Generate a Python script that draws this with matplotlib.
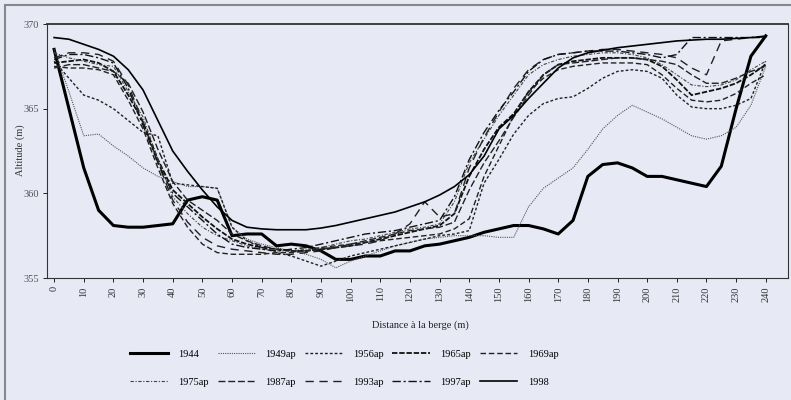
import matplotlib
matplotlib.use("Agg")
import matplotlib.pyplot as plt
from matplotlib.patches import Rectangle

plt.rcParams['font.family'] = ['Liberation Serif', 'DejaVu Serif']

distance = list(range(0, 245, 5))

y1944 = [368.5, 365.0, 361.5, 359.0, 358.1, 358.0, 358.0, 358.1, 358.2, 359.6,
         359.8, 359.6, 357.5, 357.6, 357.6, 356.9, 357.0, 356.9, 356.6, 356.1,
         356.1, 356.3, 356.3, 356.6, 356.6, 356.9, 357.0, 357.2, 357.4, 357.7,
         357.9, 358.1, 358.1, 357.9, 357.6, 358.4, 361.0, 361.7, 361.8, 361.5,
         361.0, 361.0, 360.8, 360.6, 360.4, 361.6, 365.0, 368.1, 369.3]
y1949 = [368.5, 366.0, 363.4, 363.5, 362.8, 362.2, 361.5, 361.0, 360.7, 360.4,
         360.4, 360.3, 358.0, 357.3, 357.0, 356.8, 356.6, 356.4, 356.1, 355.6,
         356.0, 356.3, 356.6, 356.9, 357.1, 357.3, 357.4, 357.5, 357.5, 357.5,
         357.4, 357.4, 359.2, 360.3, 360.9, 361.5, 362.6, 363.8, 364.6, 365.2,
         364.8, 364.4, 363.9, 363.4, 363.2, 363.4, 363.9, 365.2, 367.5]
y1956 = [367.8, 366.8, 365.8, 365.5, 365.0, 364.3, 363.6, 363.4, 360.6, 360.5,
         360.4, 360.3, 358.0, 357.2, 356.8, 356.5, 356.3, 356.0, 355.7, 356.0,
         356.3, 356.5, 356.7, 356.9, 357.1, 357.3, 357.5, 357.6, 357.8, 360.6,
         362.0, 363.5, 364.6, 365.3, 365.6, 365.7, 366.2, 366.8, 367.2, 367.3,
         367.2, 366.8, 365.8, 365.1, 365.0, 365.0, 365.2, 365.6, 367.8]
y1965 = [367.7, 367.8, 367.9, 367.7, 367.2, 365.8, 364.2, 362.0, 360.2, 359.4,
         358.6, 357.9, 357.3, 357.0, 356.8, 356.7, 356.6, 356.6, 356.7, 356.8,
         356.9, 357.1, 357.3, 357.5, 357.7, 357.9, 358.1, 358.8, 361.0, 362.6,
         363.9, 364.7, 366.0, 367.0, 367.6, 367.8, 367.9, 368.0, 368.0, 368.0,
         367.9, 367.5, 366.7, 365.8, 366.0, 366.2, 366.5, 367.0, 367.6]
y1969 = [367.5, 367.4, 367.4, 367.3, 367.0, 365.5, 363.8, 361.5, 359.4, 358.0,
         357.0, 356.5, 356.4, 356.4, 356.4, 356.5, 356.5, 356.6, 356.8, 356.9,
         357.0, 357.1, 357.2, 357.3, 357.4, 357.5, 357.6, 357.9, 358.5, 361.0,
         362.8, 364.6, 366.0, 366.8, 367.3, 367.5, 367.6, 367.7, 367.7, 367.7,
         367.6, 367.0, 366.2, 365.5, 365.4, 365.5, 365.9, 366.5, 367.0]
y1975 = [368.3, 368.0, 367.8, 367.6, 367.5, 366.0, 364.5, 362.0, 359.8, 358.8,
         358.0, 357.5, 357.2, 356.9, 356.7, 356.6, 356.6, 356.7, 356.8, 357.0,
         357.2, 357.3, 357.5, 357.7, 357.9, 358.0, 358.2, 359.5, 361.8, 363.2,
         364.6, 365.8, 367.0, 367.6, 367.9, 368.1, 368.2, 368.3, 368.3, 368.2,
         368.0, 367.6, 367.0, 366.4, 366.3, 366.4, 366.7, 367.3, 367.8]
y1987 = [367.4, 367.6, 367.6, 367.4, 367.2, 366.5, 364.8, 362.6, 360.7, 359.6,
         359.0, 358.4, 357.6, 357.2, 356.9, 356.7, 356.6, 356.6, 356.7, 356.8,
         357.0, 357.2, 357.4, 357.6, 357.8, 357.9, 358.0, 358.3, 360.2, 361.8,
         363.1, 364.5, 365.8, 367.0, 367.6, 367.7, 367.8, 367.9, 368.0, 368.0,
         367.9, 367.8, 367.6, 367.0, 366.5, 366.5, 366.8, 367.2, 367.5]
y1993 = [368.0, 368.3, 368.3, 368.2, 367.8, 366.4, 364.2, 361.8, 359.6, 358.3,
         357.4, 356.9, 356.7, 356.6, 356.5, 356.4, 356.4, 356.5, 356.6, 356.8,
         356.9, 357.0, 357.2, 357.6, 358.2, 359.5, 358.6, 358.8, 361.5, 363.3,
         364.8, 366.2, 367.3, 367.9, 368.2, 368.3, 368.4, 368.5, 368.5, 368.4,
         368.3, 368.2, 368.0, 367.4, 367.0, 369.0, 369.1, 369.2, 369.2]
y1997 = [367.9, 368.2, 368.2, 368.0, 367.7, 366.2, 364.0, 361.8, 360.0, 359.2,
         358.4, 357.6, 357.0, 356.8, 356.7, 356.6, 356.7, 356.8, 357.0, 357.2,
         357.4, 357.6, 357.7, 357.8, 358.0, 358.2, 358.4, 359.8, 362.0, 363.6,
         364.9, 366.0, 367.2, 367.9, 368.2, 368.3, 368.4, 368.4, 368.4, 368.3,
         368.2, 368.0, 368.2, 369.2, 369.2, 369.2, 369.2, 369.2, 369.3]
y1998 = [369.2, 369.1, 368.8, 368.5, 368.1, 367.3, 366.1, 364.3, 362.5, 361.3,
         360.2, 359.2, 358.4, 358.0, 357.9, 357.85, 357.85, 357.85, 357.95, 358.1,
         358.3, 358.5, 358.7, 358.9, 359.2, 359.5, 359.9, 360.4, 361.1, 362.2,
         363.8, 364.6, 365.6, 366.5, 367.4, 368.0, 368.3, 368.45, 368.6, 368.7,
         368.8, 368.9, 369.0, 369.05, 369.1, 369.1, 369.15, 369.2, 369.25]

labels = ['1944', '1949ap', '1956ap', '1965ap', '1969ap',
          '1975ap', '1987ap', '1993ap', '1997ap', '1998']
series = [y1944, y1949, y1956, y1965, y1969, y1975, y1987, y1993, y1997, y1998]
xticks = list(range(0, 250, 10))
yticks = [355, 360, 365, 370]

styles = [
    dict(color='black', lw=2.2, ls='-'),
    dict(color='#555555', lw=0.8, ls=(0, (1, 1))),
    dict(color='#222222', lw=1.0, ls=(0, (2, 1.5))),
    dict(color='#111111', lw=1.3, ls=(0, (3, 1))),
    dict(color='#222222', lw=1.0, ls=(0, (4, 2))),
    dict(color='#444444', lw=0.8, ls=(0, (3, 1.5, 1, 1.5))),
    dict(color='#222222', lw=1.0, ls=(0, (5, 2))),
    dict(color='#222222', lw=1.0, ls=(0, (6, 4))),
    dict(color='#111111', lw=1.0, ls=(0, (6, 2, 1.5, 2))),
    dict(color='black', lw=1.2, ls='-'),
]

bg = '#e7e9f5'
fig = plt.figure(figsize=(7.91, 4.0), dpi=100, facecolor=bg)
ax = fig.add_axes([47 / 791, 1 - 278 / 400, 741 / 791, 254 / 400])
ax.set_facecolor(bg)

handles = []
for y, lab, st in zip(series, labels, styles):
    h, = ax.plot(distance, y, label=lab, color=st['color'], lw=st['lw'],
                 linestyle=st['ls'])
    handles.append(h)

ax.set_xlim(-2.4, 247.5)
ax.set_ylim(355, 370)
ax.set_xticks(xticks)
ax.set_xticklabels([str(t) for t in xticks], rotation=90, fontsize=7.5,
                   color='#333333')
ax.set_yticks(yticks)
ax.set_yticklabels([str(t) for t in yticks], fontsize=7.5, color='#555555')
ax.tick_params(axis='both', length=3, width=0.6, direction='out', pad=3)
for sp in ax.spines.values():
    sp.set_linewidth(0.8)
    sp.set_color('#333333')
ax.spines['top'].set_linewidth(1.3)

fig.text(20 / 791, 1 - 150 / 400, 'Altitude (m)', rotation=90, fontsize=7.5,
         ha='center', va='center', color='#333333')
fig.text(420 / 791, 1 - 325 / 400, 'Distance à la berge (m)', fontsize=7.5,
         ha='center', va='center', color='#222222')

order = [0, 5, 1, 6, 2, 7, 3, 8, 4, 9]
leg = fig.legend([handles[i] for i in order], [labels[i] for i in order],
                 ncol=5, loc='upper left', bbox_to_anchor=(121 / 791, 1 - 340 / 400),
                 frameon=False, fontsize=7.5, handlelength=3.6,
                 handletextpad=1.0, columnspacing=0.85, labelspacing=1.8)

fig.patches.append(Rectangle((5 / 791, -0.1), 1.2, 1.1 - 5 / 400 + 0.0,
                             transform=fig.transFigure, fill=False,
                             edgecolor='#888888', lw=1.5))

fig.savefig('out.png', dpi=100, facecolor=bg)
